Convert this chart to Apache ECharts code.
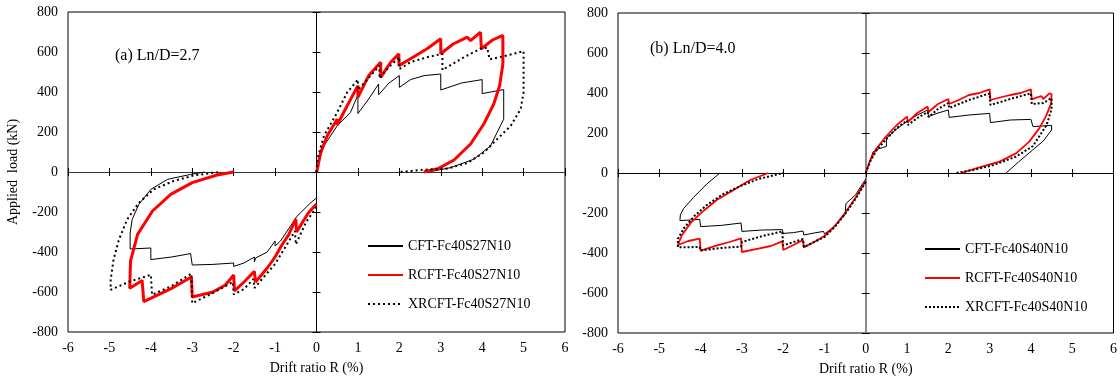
<!DOCTYPE html>
<html>
<head>
<meta charset="utf-8">
<script src="https://cdn.jsdelivr.net/npm/echarts@6/dist/echarts.min.js"></script>
<style>
html, body { margin: 0; padding: 0; background: #fff; }
#chart { width: 1120px; height: 385px; }
</style>
</head>
<body>
<div id="chart"></div>
<script>
// tick values
const driftTicks = [-6, -5, -4, -3, -2, -1, 0, 1, 2, 3, 4, 5, 6];
const loadTicks = [-800, -600, -400, -200, 0, 200, 400, 600, 800];

// panel (a) Ln/D=2.7
const namesA = ['CFT-Fc40S27N10', 'RCFT-Fc40S27N10', 'XRCFT-Fc40S27N10'];
const cftA_pos = [[0,0],[0.02,30],[0.18,131],[0.5,231],[0.82,298],[1.0,385],[1.0,292],[1.26,365],[1.5,440],[1.5,386],[1.75,445],[2.0,482],[2.0,423],[2.27,462],[2.6,482],[3.0,490],[3.0,410],[3.5,445],[4.0,462],[4.0,392],[4.52,412],[4.52,264],[4.44,231],[4.2,130],[3.8,64],[3.24,22],[2.83,5],[2.6,0]];
const cftA_neg = [[0,-130],[-0.14,-154],[-0.47,-221],[-0.63,-271],[-0.87,-345],[-1.0,-370],[-1.0,-345],[-1.19,-400],[-1.47,-430],[-1.5,-450],[-1.5,-425],[-1.75,-455],[-2.0,-472],[-2.0,-455],[-2.5,-462],[-3.0,-465],[-3.04,-408],[-3.5,-425],[-4.0,-438],[-4.0,-380],[-4.5,-385],[-4.5,-305],[-4.45,-237],[-4.29,-162],[-4.0,-87],[-3.6,-37],[-3.04,-12],[-2.7,0]];
const rcftA_pos = [[0,0],[0.02,14],[0.1,97],[0.26,181],[0.5,265],[0.5,235],[0.74,331],[1.0,432],[1.0,373],[1.26,482],[1.55,549],[1.55,473],[1.79,549],[1.99,591],[1.99,532],[2.27,566],[2.67,616],[3.0,666],[3.0,591],[3.3,640],[3.64,674],[3.72,657],[3.96,699],[3.98,616],[4.25,660],[4.5,683],[4.5,540],[4.42,430],[4.28,340],[4.04,240],[3.72,140],[3.32,60],[2.95,18],[2.59,0]];
const rcftA_neg = [[0,-160],[-0.2,-205],[-0.48,-300],[-0.5,-235],[-0.67,-313],[-0.85,-370],[-1.0,-425],[-1.19,-480],[-1.47,-550],[-1.5,-497],[-1.75,-550],[-1.98,-594],[-2.0,-515],[-2.2,-565],[-2.5,-600],[-3.0,-625],[-3.02,-525],[-3.5,-582],[-4.17,-648],[-4.21,-542],[-4.51,-581],[-4.49,-445],[-4.32,-312],[-3.96,-195],[-3.52,-112],[-3.0,-53],[-2.4,-15],[-2.0,0]];
const xrcftA_pos = [[0,0],[0.02,64],[0.18,181],[0.5,298],[0.74,398],[1.0,462],[1.0,410],[1.26,470],[1.52,532],[1.52,468],[1.75,525],[2.0,574],[2.0,515],[2.27,549],[2.67,574],[3.04,591],[3.04,510],[3.56,574],[3.96,616],[4.12,622],[4.18,563],[4.5,578],[5.0,604],[5.0,398],[4.93,315],[4.69,231],[4.36,164],[4.04,97],[3.64,45],[3.16,17],[2.5,10],[2.0,0]];
const xrcftA_neg = [[0,-175],[-0.25,-250],[-0.5,-362],[-0.52,-295],[-0.75,-375],[-1.0,-460],[-1.25,-520],[-1.5,-580],[-1.52,-535],[-1.75,-585],[-2.0,-612],[-2.02,-550],[-2.5,-605],[-3.0,-656],[-3.02,-508],[-3.5,-570],[-3.97,-614],[-4.0,-514],[-4.5,-547],[-4.97,-589],[-4.97,-539],[-4.9,-438],[-4.77,-338],[-4.57,-237],[-4.29,-154],[-3.93,-87],[-3.45,-45],[-2.96,-17],[-2.35,0]];

// panel (b) Ln/D=4.0
const namesB = ['CFT-Fc40S40N10', 'RCFT-Fc40S40N10', 'XRCFT-Fc40S40N10'];
const cftB_pos = [[0,0],[0.18,107],[0.3,120],[0.5,133],[0.5,175],[0.75,220],[1.0,258],[1.25,290],[1.5,315],[1.52,282],[1.75,300],[2.0,315],[2.02,278],[2.5,290],[3.0,298],[3.02,252],[3.5,265],[4.0,268],[4.05,232],[4.5,238],[4.5,215],[4.3,160],[4.04,115],[3.7,55],[3.4,0]];
const cftB_neg = [[0,-30],[-0.25,-110],[-0.48,-153],[-0.5,-208],[-0.75,-265],[-1.0,-305],[-1.02,-292],[-1.25,-300],[-1.5,-310],[-1.52,-290],[-1.75,-298],[-2.0,-302],[-2.02,-283],[-2.5,-285],[-3.0,-292],[-3.02,-250],[-3.5,-262],[-4.0,-268],[-4.02,-232],[-4.5,-238],[-4.49,-210],[-4.41,-177],[-4.17,-122],[-3.85,-55],[-3.53,0]];
const rcftB_pos = [[0,0],[0.1,60],[0.25,120],[0.5,185],[0.75,240],[1.0,282],[1.02,255],[1.25,300],[1.5,332],[1.52,305],[1.75,345],[2.0,370],[2.02,345],[2.25,365],[2.5,390],[2.75,400],[3.0,418],[3.02,365],[3.2,375],[3.5,390],[3.75,400],[4.0,418],[4.02,368],[4.25,385],[4.3,370],[4.45,398],[4.5,395],[4.49,348],[4.36,282],[4.2,223],[3.96,157],[3.64,98],[3.24,57],[2.75,28],[2.31,0]];
const rcftB_neg = [[0,-40],[-0.25,-125],[-0.5,-200],[-0.75,-265],[-1.0,-315],[-1.25,-345],[-1.5,-372],[-1.52,-335],[-1.75,-360],[-2.0,-385],[-2.02,-342],[-2.3,-365],[-2.6,-378],[-3.0,-395],[-3.02,-327],[-3.3,-345],[-3.6,-362],[-4.0,-388],[-4.02,-328],[-4.3,-340],[-4.55,-360],[-4.45,-310],[-4.25,-252],[-4.0,-202],[-3.61,-135],[-3.2,-85],[-2.8,-35],[-2.36,0]];
const xrcftB_pos = [[0,0],[0.1,55],[0.25,110],[0.5,170],[0.75,225],[1.0,262],[1.02,240],[1.25,275],[1.5,305],[1.52,280],[1.75,320],[2.0,350],[2.02,325],[2.5,365],[3.0,398],[3.02,340],[3.5,370],[4.0,398],[4.02,345],[4.3,350],[4.5,375],[4.5,320],[4.38,240],[4.05,135],[3.64,82],[3.1,40],[2.6,15],[2.19,0]];
const xrcftB_neg = [[0,-45],[-0.25,-130],[-0.5,-205],[-0.75,-270],[-1.0,-320],[-1.25,-345],[-1.5,-370],[-1.52,-330],[-1.75,-345],[-2.0,-362],[-2.02,-292],[-2.5,-315],[-3.0,-345],[-3.02,-368],[-3.5,-375],[-4.0,-388],[-4.02,-370],[-4.55,-372],[-4.55,-330],[-4.4,-275],[-4.15,-215],[-3.85,-160],[-3.45,-105],[-3.0,-62],[-2.6,-30],[-2.0,0]];

const FONT = 'Liberation Serif';

function axesFor(dim, grid, zeroColor, zeroWidth, name) {
    const ticks = dim === 'x' ? driftTicks : loadTicks;
    const base = {
        type: 'value', gridIndex: grid,
        min: ticks[0], max: ticks[ticks.length - 1], interval: ticks[1] - ticks[0],
        splitLine: { show: false }
    };
    const pos = dim === 'x' ? 'bottom' : 'left';
    return [
        // labels on the frame
        Object.assign({}, base, {
            position: pos,
            axisLine: { show: false, onZero: false },
            axisTick: { show: false },
            axisLabel: { color: '#000', fontFamily: FONT, fontSize: 14, margin: dim === 'x' ? 9 : 10 },
            name: name || '',
            nameLocation: 'middle',
            nameGap: dim === 'x' ? 29 : 48,
            nameTextStyle: { color: '#000', fontFamily: FONT, fontSize: 14 }
        }),
        // zero line with outward ticks
        Object.assign({}, base, {
            position: pos,
            axisLine: { show: true, onZero: true, lineStyle: { color: zeroColor, width: zeroWidth } },
            axisTick: { show: true, length: 4, lineStyle: { color: '#000' } },
            axisLabel: { show: false }
        }),
        // inward ticks on the zero line
        Object.assign({}, base, {
            position: pos,
            axisLine: { show: false, onZero: true },
            axisTick: { show: true, inside: true, length: 4, lineStyle: { color: '#000' } },
            axisLabel: { show: false }
        })
    ];
}

const xAxes = axesFor('x', 0, '#333', 1, 'Drift ratio R (%)').concat(axesFor('x', 1, '#000', 1, 'Drift ratio R (%)'));
const yAxes = axesFor('y', 0, '#000', 1, 'Applied  load (kN)').concat(axesFor('y', 1, '#888', 2, ''));

const styles = [
    { color: '#000', width: 1, type: 'solid' },
    { color: '#ff0000', width: 3, type: 'solid' },
    { color: '#000', width: 2, type: [2, 3] }
];
const stylesB = [
    { color: '#000', width: 1, type: 'solid' },
    { color: '#ff0000', width: 1.8, type: 'solid' },
    { color: '#000', width: 2, type: [2, 2] }
];

function makeSeries(names, parts, grid, st) {
    const out = [];
    names.forEach((n, i) => {
        parts[i].forEach(d => {
            out.push({
                name: n, type: 'line', data: d,
                xAxisIndex: grid * 3, yAxisIndex: grid * 3,
                symbol: 'none', silent: true, animation: false,
                itemStyle: { color: st[i].color },
                lineStyle: { color: st[i].color, width: st[i].width, type: st[i].type }
            });
        });
    });
    return out;
}

const series = makeSeries(namesA, [[cftA_pos, cftA_neg], [rcftA_pos, rcftA_neg], [xrcftA_pos, xrcftA_neg]], 0, styles)
    .concat(makeSeries(namesB, [[cftB_pos, cftB_neg], [rcftB_pos, rcftB_neg], [xrcftB_pos, xrcftB_neg]], 1, stylesB));

const legendBase = {
    orient: 'vertical', itemWidth: 35, itemHeight: 14, itemGap: 15,
    itemStyle: { opacity: 0 },
    textStyle: { color: '#000', fontFamily: FONT, fontSize: 14 },
    selectedMode: false
};

const chart = echarts.init(document.getElementById('chart'));
chart.setOption({
    backgroundColor: '#fff',
    animation: false,
    grid: [
        { left: 68, top: 12, width: 497, height: 320, show: true, borderColor: '#000', borderWidth: 1 },
        { left: 618, top: 13, width: 497, height: 320, show: true, borderColor: '#000', borderWidth: 1 }
    ],
    xAxis: xAxes,
    yAxis: yAxes,
    legend: [
        Object.assign({}, legendBase, { left: 362, top: 234, data: namesA }),
        Object.assign({}, legendBase, { left: 919, top: 237, data: namesB })
    ],
    graphic: [
        { type: 'text', left: 115, top: 48, style: { text: '(a) Ln/D=2.7', fill: '#000', font: '16px "Liberation Serif"' } },
        { type: 'text', left: 650, top: 41, style: { text: '(b) Ln/D=4.0', fill: '#000', font: '16px "Liberation Serif"' } }
    ],
    series: series
});
</script>
</body>
</html>
